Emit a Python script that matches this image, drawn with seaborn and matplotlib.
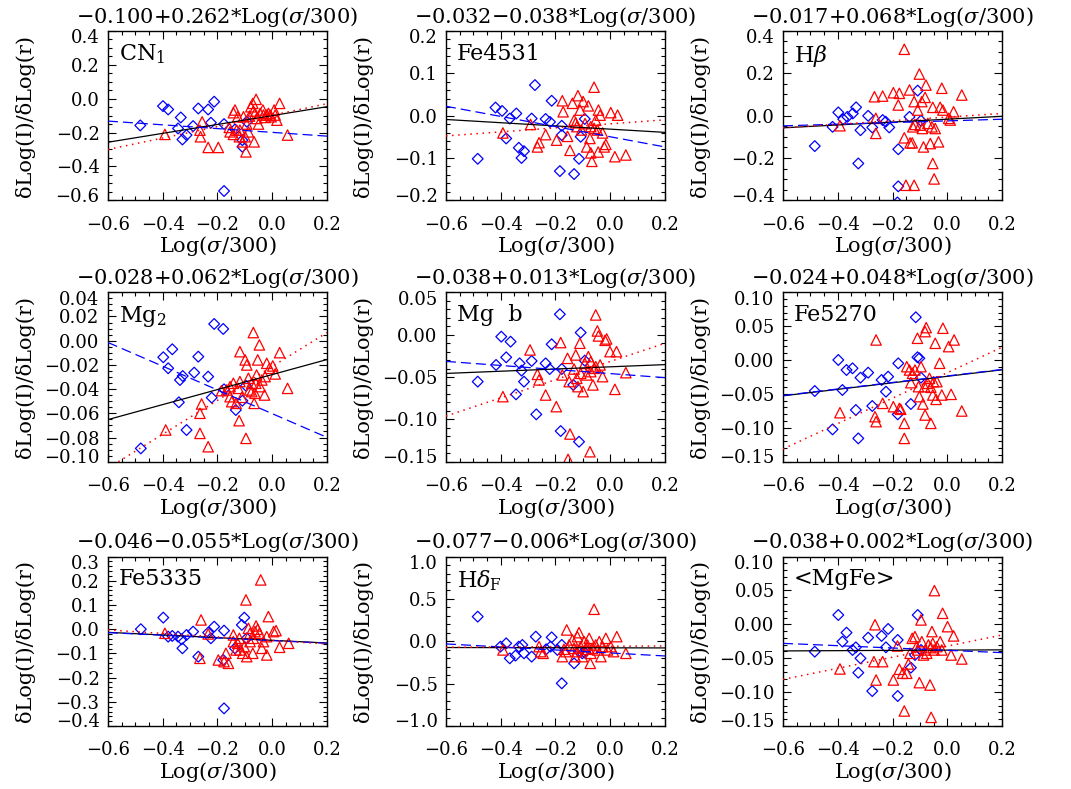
import numpy as np
import matplotlib
matplotlib.use("Agg")
import matplotlib.pyplot as plt
import seaborn as sns
from matplotlib.ticker import AutoMinorLocator, FuncFormatter
from matplotlib.transforms import ScaledTranslation

# panel names and axis settings
names = ["CN$_1$", "Fe4531", r"H$\beta$", "Mg$_2$", "Mg  b", "Fe5270",
         "Fe5335", r"H$\delta_{\rm F}$", "<MgFe>"]
ylims = [(-0.6, 0.4), (-0.2, 0.2), (-0.4, 0.4), (-0.10, 0.04), (-0.15, 0.05),
         (-0.15, 0.10), (-0.4, 0.3), (-1.0, 1.0), (-0.15, 0.10)]
ysteps = [0.2, 0.1, 0.2, 0.02, 0.05, 0.05, 0.1, 0.5, 0.05]
ydec = [1, 1, 1, 2, 2, 2, 1, 1, 2]

# fits: all galaxies (title), blue sample, red sample  -> y = a + b*x
fit_a = [-0.100, -0.032, -0.017, -0.028, -0.038, -0.024, -0.046, -0.077, -0.038]
fit_b = [0.262, -0.038, 0.068, 0.062, 0.013, 0.048, -0.055, -0.006, 0.002]
blue_a = [-0.199, -0.050, -0.025, -0.0603, -0.046, -0.0235, -0.047, -0.1375, -0.0383]
blue_b = [-0.111, -0.120, 0.039, -0.098, -0.024, 0.048, -0.055, -0.1775, -0.0171]
red_a = [-0.0975, -0.0195, -0.007, -0.0213, -0.0317, -0.0187, -0.0465, -0.059, -0.0321]
red_b = [0.3375, 0.0475, 0.085, 0.140, 0.1074, 0.1876, -0.0724, 0.020, 0.0818]

blue_x = [
    [-0.482, -0.399, -0.380, -0.334, -0.344, -0.328, -0.313, -0.289, -0.270, -0.234, -0.212, -0.224, -0.176, -0.136, -0.109, -0.109, -0.093, -0.176],
    [-0.484, -0.419, -0.395, -0.380, -0.367, -0.343, -0.334, -0.324, -0.315, -0.287, -0.275, -0.236, -0.220, -0.214, -0.177, -0.177, -0.184, -0.132, -0.108, -0.114, -0.093],
    [-0.484, -0.419, -0.398, -0.380, -0.365, -0.345, -0.333, -0.317, -0.325, -0.289, -0.274, -0.236, -0.225, -0.212, -0.179, -0.179, -0.182, -0.138, -0.108, -0.096],
    [-0.480, -0.398, -0.380, -0.365, -0.337, -0.327, -0.341, -0.313, -0.285, -0.270, -0.234, -0.221, -0.212, -0.179, -0.176, -0.133, -0.109, -0.096],
    [-0.484, -0.417, -0.398, -0.380, -0.364, -0.344, -0.331, -0.324, -0.315, -0.287, -0.270, -0.236, -0.221, -0.214, -0.184, -0.177, -0.181, -0.135, -0.114, -0.108, -0.093],
    [-0.484, -0.419, -0.398, -0.383, -0.368, -0.346, -0.334, -0.325, -0.317, -0.289, -0.274, -0.240, -0.224, -0.216, -0.181, -0.179, -0.133, -0.115, -0.109, -0.102, -0.096],
    [-0.480, -0.398, -0.380, -0.365, -0.344, -0.328, -0.313, -0.289, -0.270, -0.234, -0.224, -0.212, -0.176, -0.179, -0.176, -0.136, -0.111, -0.102, -0.093, -0.331],
    [-0.484, -0.401, -0.380, -0.367, -0.346, -0.334, -0.321, -0.315, -0.287, -0.272, -0.234, -0.214, -0.218, -0.177, -0.177, -0.132, -0.114, -0.102, -0.093, -0.193],
    [-0.484, -0.398, -0.383, -0.368, -0.346, -0.334, -0.325, -0.317, -0.289, -0.274, -0.240, -0.224, -0.216, -0.181, -0.181, -0.133, -0.118, -0.108, -0.096],
]
blue_y = [
    [-0.158, -0.044, -0.064, -0.111, -0.176, -0.241, -0.215, -0.162, -0.058, -0.064, -0.018, -0.142, -0.150, -0.182, -0.245, -0.284, -0.136, -0.545],
    [-0.102, 0.019, 0.011, -0.054, -0.007, 0.005, -0.076, -0.100, -0.084, -0.007, 0.072, -0.008, -0.015, 0.035, -0.024, -0.046, -0.131, -0.138, -0.050, -0.102, -0.008],
    [-0.144, -0.053, 0.015, -0.017, -0.006, 0.010, 0.039, -0.069, -0.226, -0.001, -0.056, -0.021, -0.029, -0.056, -0.159, -0.334, -0.410, -0.006, 0.118, -0.024],
    [-0.0890, -0.0137, -0.0228, -0.0071, -0.0325, -0.0292, -0.0509, -0.0738, -0.0264, -0.0132, -0.0297, -0.0471, 0.0138, 0.0097, -0.0402, -0.0573, -0.0496, -0.0372],
    [-0.0555, -0.0358, -0.0024, -0.0268, -0.0083, -0.0705, -0.0339, -0.0425, -0.0555, -0.0311, -0.0941, -0.0339, -0.0406, -0.0114, 0.0240, -0.0406, -0.1138, -0.0594, -0.1264, 0.0024, -0.0307],
    [-0.0457, -0.1023, 0.0001, -0.0442, -0.0147, -0.0122, -0.0737, -0.1156, -0.0260, -0.0186, -0.0678, -0.0294, -0.0467, -0.0245, -0.0801, -0.0049, -0.0649, 0.0631, 0.0041, 0.0026, -0.0260],
    [0.0, 0.0478, -0.0307, -0.0279, -0.0307, -0.0789, -0.0238, -0.0100, -0.1134, -0.0141, -0.0376, 0.0106, -0.0059, -0.1272, -0.3270, -0.0789, 0.0176, 0.0478, -0.0376, -0.0417],
    [0.291, -0.063, -0.024, -0.201, -0.169, -0.063, -0.043, -0.142, -0.181, 0.055, -0.094, 0.047, -0.063, -0.043, -0.496, -0.260, -0.122, -0.142, -0.134, -0.102],
    [-0.0403, 0.0138, -0.0255, -0.0122, -0.0378, -0.0339, -0.0713, -0.0501, -0.0196, -0.0984, -0.0171, -0.0339, -0.0068, -0.0230, -0.1057, -0.0639, -0.0452, 0.0138, -0.0378],
]
red_x = [
    [-0.392, -0.256, -0.264, -0.262, -0.234, -0.197, -0.157, -0.142, -0.136, -0.126, -0.154, -0.142, -0.118, -0.120, -0.108, -0.096, -0.093, -0.083, -0.078, -0.071, -0.059, -0.069, -0.057, -0.050, -0.044, -0.034, -0.026, -0.020, -0.014, -0.004, 0.007, 0.017, 0.027, 0.056, -0.066, -0.087, -0.130, -0.099, -0.063, -0.032, -0.008, 0.011, -0.105],
    [-0.392, -0.291, -0.260, -0.266, -0.236, -0.196, -0.175, -0.172, -0.147, -0.156, -0.138, -0.126, -0.122, -0.118, -0.110, -0.105, -0.099, -0.092, -0.080, -0.074, -0.071, -0.067, -0.059, -0.053, -0.047, -0.044, -0.037, -0.043, -0.028, -0.022, -0.016, 0.002, 0.017, 0.027, 0.057, -0.071, -0.059, -0.086, -0.132],
    [-0.157, -0.392, -0.266, -0.261, -0.236, -0.261, -0.197, -0.175, -0.179, -0.157, -0.138, -0.136, -0.128, -0.121, -0.126, -0.118, -0.102, -0.108, -0.093, -0.091, -0.087, -0.078, -0.081, -0.062, -0.056, -0.053, -0.053, -0.048, -0.044, -0.032, -0.026, -0.020, -0.016, 0.005, 0.011, 0.023, 0.053, -0.151, -0.121, -0.071, -0.099],
    [-0.389, -0.264, -0.258, -0.264, -0.234, -0.185, -0.166, -0.154, -0.148, -0.142, -0.132, -0.124, -0.121, -0.118, -0.111, -0.099, -0.096, -0.093, -0.087, -0.083, -0.075, -0.069, -0.066, -0.063, -0.057, -0.053, -0.047, -0.044, -0.038, -0.028, -0.026, -0.020, -0.010, 0.002, 0.011, 0.027, 0.056, -0.154, -0.118, -0.075, -0.060],
    [-0.392, -0.293, -0.266, -0.260, -0.236, -0.197, -0.181, -0.175, -0.156, -0.154, -0.147, -0.132, -0.126, -0.122, -0.118, -0.111, -0.108, -0.099, -0.093, -0.086, -0.080, -0.074, -0.071, -0.063, -0.059, -0.053, -0.047, -0.043, -0.037, -0.028, -0.019, -0.013, -0.001, 0.017, 0.023, 0.057, -0.150, -0.071, -0.053],
    [-0.392, -0.260, -0.264, -0.260, -0.236, -0.197, -0.175, -0.170, -0.157, -0.157, -0.148, -0.138, -0.133, -0.127, -0.118, -0.109, -0.105, -0.102, -0.096, -0.089, -0.083, -0.081, -0.077, -0.081, -0.071, -0.065, -0.060, -0.060, -0.053, -0.044, -0.041, -0.028, -0.020, -0.016, 0.005, 0.014, 0.025, 0.053, -0.038, -0.050],
    [-0.392, -0.260, -0.264, -0.234, -0.197, -0.176, -0.169, -0.160, -0.142, -0.142, -0.132, -0.126, -0.120, -0.108, -0.102, -0.096, -0.093, -0.087, -0.081, -0.071, -0.063, -0.059, -0.053, -0.047, -0.042, -0.038, -0.032, -0.020, -0.014, -0.020, 0.005, 0.014, 0.027, 0.060, -0.069, -0.081, -0.118],
    [-0.392, -0.260, -0.254, -0.245, -0.175, -0.169, -0.159, -0.150, -0.138, -0.132, -0.128, -0.120, -0.114, -0.108, -0.102, -0.095, -0.083, -0.077, -0.073, -0.071, -0.059, -0.053, -0.047, -0.040, -0.034, -0.028, -0.016, -0.010, 0.012, 0.024, 0.057, -0.122, -0.065, -0.087, -0.162, 0.002],
    [-0.392, -0.264, -0.268, -0.260, -0.236, -0.197, -0.182, -0.175, -0.163, -0.157, -0.148, -0.142, -0.136, -0.128, -0.118, -0.112, -0.108, -0.102, -0.096, -0.093, -0.087, -0.081, -0.075, -0.063, -0.060, -0.056, -0.053, -0.048, -0.047, -0.038, -0.026, -0.017, -0.020, 0.001, 0.014, 0.023, 0.053, -0.059, -0.069],
]
red_y = [
    [-0.211, -0.137, -0.186, -0.225, -0.288, -0.288, -0.170, -0.083, -0.067, -0.107, -0.196, -0.211, -0.186, -0.225, -0.255, -0.314, -0.150, -0.103, -0.048, -0.028, -0.004, -0.073, -0.117, -0.150, -0.087, -0.067, -0.111, -0.097, -0.087, -0.107, -0.067, -0.127, -0.028, -0.215, -0.255, -0.196, -0.186, -0.225, -0.087, -0.097, -0.097, -0.097, -0.107],
    [-0.041, -0.021, -0.064, -0.074, -0.045, -0.058, 0.035, 0.009, -0.082, -0.049, 0.029, -0.017, -0.026, 0.047, 0.013, -0.034, 0.033, -0.019, 0.023, -0.054, -0.088, -0.108, 0.067, -0.011, -0.034, -0.086, 0.001, 0.013, -0.041, -0.074, -0.068, 0.007, -0.097, 0.001, -0.093, -0.026, -0.030, -0.074, -0.011],
    [0.313, -0.048, 0.089, -0.084, 0.092, -0.013, 0.108, 0.105, 0.050, -0.105, 0.121, -0.129, -0.129, 0.066, -0.053, -0.042, 0.196, 0.026, 0.066, -0.061, -0.148, 0.144, 0.086, -0.132, -0.053, 0.039, -0.226, -0.299, -0.061, -0.124, 0.039, 0.129, 0.026, -0.013, -0.021, 0.018, 0.097, -0.329, -0.329, -0.037, -0.045],
    [-0.0738, -0.0600, -0.0523, -0.0766, -0.0876, -0.0413, -0.0407, -0.0463, -0.0504, -0.0352, -0.0518, -0.0394, -0.0661, -0.0091, -0.0468, -0.0159, -0.0807, -0.0201, -0.0311, -0.0407, -0.0352, 0.0067, -0.0518, -0.0435, -0.0284, -0.0159, -0.0035, -0.0380, -0.0325, -0.0449, -0.0297, -0.0187, -0.0228, -0.0209, -0.0275, -0.0099, -0.0394, -0.0380, -0.0338, -0.0421, -0.0352],
    [-0.0732, -0.0181, -0.0469, -0.0535, -0.0713, -0.0850, -0.0094, -0.0476, -0.0280, -0.1472, -0.1173, -0.0406, -0.0240, -0.0516, -0.0614, -0.0102, -0.0457, -0.0673, -0.0339, -0.0476, -0.0260, -0.1382, -0.0319, -0.0594, -0.0398, 0.0232, 0.0043, -0.0016, -0.0358, -0.0496, -0.0067, -0.0051, -0.0201, -0.0646, -0.0201, -0.0449, -0.0555, -0.0437, -0.0378],
    [-0.0777, 0.0296, -0.0836, -0.0909, -0.0639, -0.0688, -0.0713, -0.0727, -0.0934, -0.1156, -0.0098, -0.0147, -0.0334, -0.0196, -0.0147, 0.0321, -0.0393, -0.0540, -0.0098, -0.0649, -0.0393, 0.0419, 0.0478, -0.0811, -0.0344, -0.0270, -0.0402, -0.0934, -0.0516, 0.0247, -0.0580, -0.0048, -0.0516, 0.0469, 0.0198, -0.0506, 0.0296, -0.0752, -0.0319, -0.0319],
    [-0.0169, 0.0382, -0.1203, -0.0197, -0.1272, -0.1341, -0.0996, -0.1410, -0.0238, -0.0514, -0.0858, -0.0583, -0.0376, -0.0996, -0.0721, 0.1209, -0.1134, 0.0037, -0.0514, -0.0996, -0.0100, 0.0134, -0.0003, -0.0169, 0.2035, -0.0789, -0.0514, -0.0307, 0.0520, -0.1065, -0.0100, -0.0059, -0.0748, -0.0583, -0.0376, -0.0169, -0.0858],
    [-0.102, -0.063, -0.122, -0.142, -0.181, -0.094, 0.134, -0.043, 0.016, -0.083, -0.181, 0.055, 0.102, -0.063, -0.181, -0.004, -0.043, 0.035, -0.260, -0.142, 0.378, -0.043, -0.102, -0.004, -0.181, -0.063, 0.035, -0.102, -0.122, 0.055, -0.142, -0.122, -0.083, -0.094, -0.122, -0.063],
    [-0.0658, -0.0006, -0.0550, -0.0821, -0.0550, -0.0821, -0.0319, -0.0663, -0.0722, -0.1278, -0.0722, -0.0585, -0.0427, -0.0206, -0.0181, -0.0329, -0.0378, -0.0860, 0.0065, -0.0255, -0.0452, -0.0378, -0.0427, -0.0895, -0.0344, -0.0107, -0.0280, -0.0378, 0.0498, -0.0329, -0.0255, 0.0163, -0.0378, -0.0034, -0.0452, -0.0171, -0.0511, -0.1372, -0.0304],
]

sns.set_style("ticks")
plt.rcParams["font.family"] = ["DejaVu Serif"]
plt.rcParams["mathtext.fontset"] = "dejavuserif"
plt.rcParams["text.color"] = "black"
plt.rcParams["axes.labelcolor"] = "black"
plt.rcParams["xtick.color"] = "black"
plt.rcParams["ytick.color"] = "black"

fig = plt.figure(figsize=(10.71, 7.89), dpi=100)
lefts = [0.1008, 0.4164, 0.7311]
bottoms = [0.7461, 0.4148, 0.0798]


def fmt(d):
    return FuncFormatter(lambda v, p: f"{v + 0.0:.{d}f}".replace("-", "\u2212"))


for i in range(9):
    r, c = divmod(i, 3)
    ax = fig.add_axes([lefts[c], bottoms[r], 0.2045, 0.2148])

    sns.scatterplot(x=blue_x[i], y=blue_y[i], ax=ax, marker="D", s=30,
                    facecolors="none", edgecolor="blue", linewidth=0.9, zorder=2)
    sns.scatterplot(x=red_x[i], y=red_y[i], ax=ax, marker="^", s=56,
                    facecolors="none", edgecolor="red", linewidth=0.9, zorder=2)

    ax.axline((0, fit_a[i]), slope=fit_b[i], color="black", lw=0.9, zorder=3)
    ax.axline((0, blue_a[i]), slope=blue_b[i], color="blue", lw=0.9,
              dashes=(8, 4), zorder=4)
    ax.axline((0, red_a[i]), slope=red_b[i], color="red", lw=1.1,
              dashes=(1, 3), zorder=5)

    lo, hi = ylims[i]
    ax.set_xlim(-0.6, 0.2)
    ax.set_ylim(lo, hi)
    ax.set_xticks([-0.6, -0.4, -0.2, 0.0, 0.2])
    ax.xaxis.set_major_formatter(fmt(1))
    ax.xaxis.set_minor_locator(AutoMinorLocator(4))
    ax.set_yticks(np.round(np.arange(lo, hi + ysteps[i] / 2, ysteps[i]), 4))
    ax.yaxis.set_major_formatter(fmt(ydec[i]))
    ax.yaxis.set_minor_locator(AutoMinorLocator())

    ax.tick_params(which="both", direction="in", top=True, right=True,
                   width=0.8, color="black", labelcolor="black", labelsize=13)
    ax.tick_params(which="major", length=6)
    ax.tick_params(which="minor", length=3)
    ax.tick_params(axis="x", which="major", pad=11)
    ax.tick_params(axis="y", which="major", pad=6)
    for sp in ax.spines.values():
        sp.set_linewidth(1.0)
        sp.set_color("black")

    title = f"{fit_a[i]:.3f}{fit_b[i]:+.3f}*Log($\\sigma$/300)".replace("-", "\u2212")
    ax.set_title(title, fontsize=15, pad=6, color="black")
    ax.set_xlabel("Log($\\sigma$/300)", fontsize=15)
    ax.xaxis.set_label_coords(0.5, -0.2)
    ax.set_ylabel("\u03b4Log(I)/\u03b4Log(r)", fontsize=15)
    ax.yaxis.set_label_coords(-0.333, 0.5)
    ax.text(0.05, 0.93, names[i], transform=ax.transAxes, fontsize=16,
            va="top", ha="left", color="black")

    # end labels of the y axis sit a little inside the frame
    yt = ax.yaxis.get_major_ticks()
    yt[0].label1.set_transform(yt[0].label1.get_transform()
                               + ScaledTranslation(0, 4 / 72, fig.dpi_scale_trans))
    yt[-1].label1.set_transform(yt[-1].label1.get_transform()
                                + ScaledTranslation(0, -4 / 72, fig.dpi_scale_trans))

fig.savefig("out.png", dpi=100)
